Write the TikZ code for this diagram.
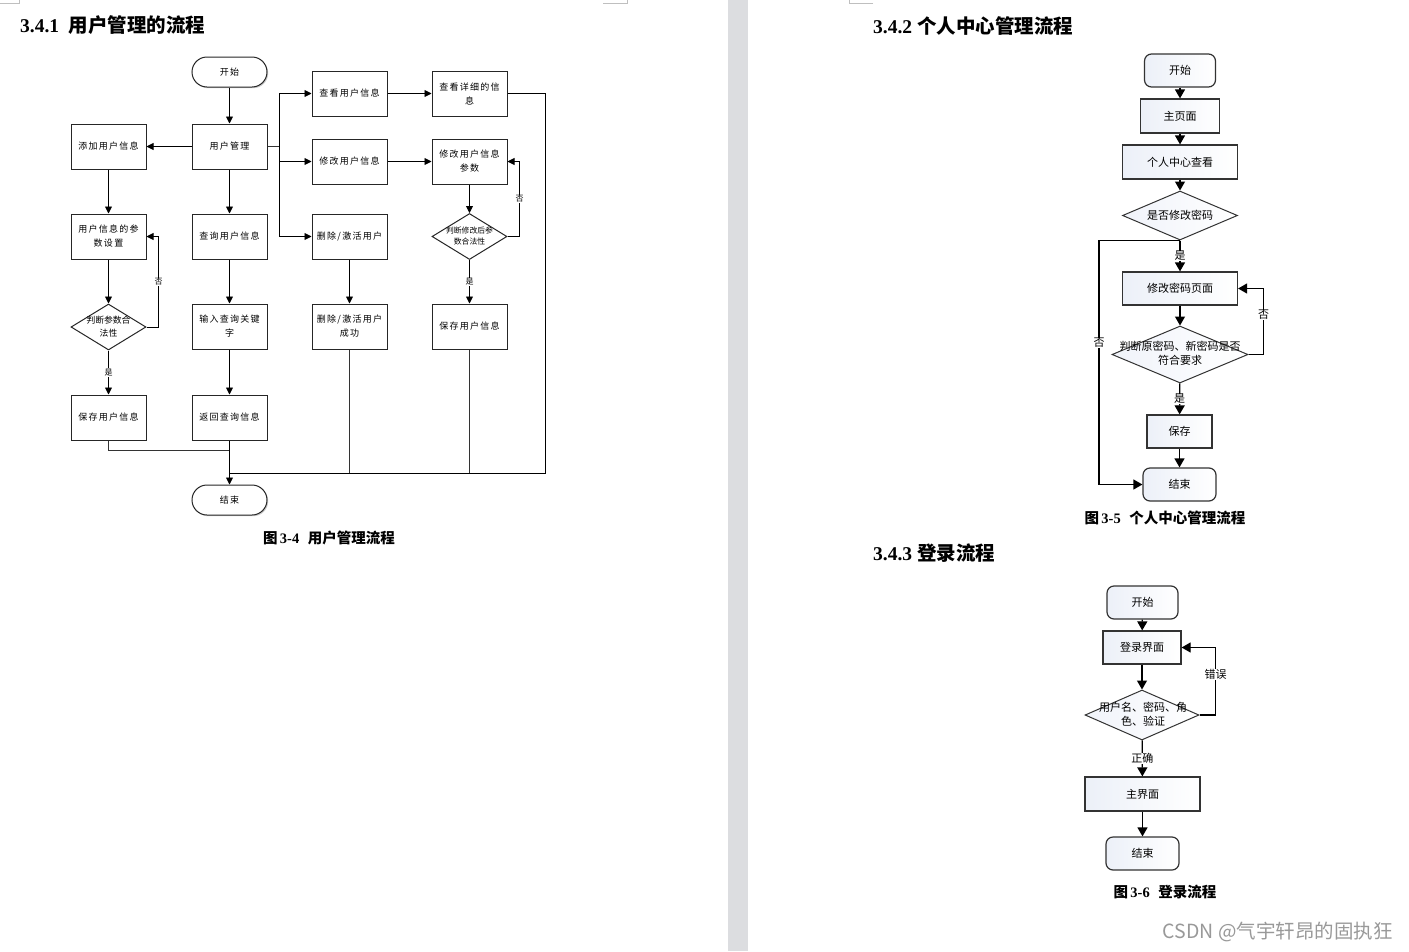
\documentclass[tikz,border=0pt]{standalone}
\usepackage{fontspec}
\newfontfamily\cjk{Noto Sans CJK SC}
\newfontfamily\cjkl[LetterSpace=14]{Noto Sans CJK SC}
\newfontfamily\tnr{Liberation Serif}
\usetikzlibrary{arrows.meta,shapes.geometric,shadows,calc}
\definecolor{gapgray}{RGB}{220,221,224}
\definecolor{shadeA}{RGB}{236,240,248}
\definecolor{shadeB}{RGB}{240,243,250}
\begin{document}
\begin{tikzpicture}[x=1pt,y=-1pt,
  every node/.style={inner sep=1pt},
  lbox/.style={draw=black!85,line width=1pt,fill=white,minimum width=75pt,minimum height=45pt,
    font=\cjkl\fontsize{9}{14}\selectfont,align=center,
    drop shadow={shadow xshift=1.2pt,shadow yshift=-1.2pt,fill=black!20,opacity=1}},
  lterm/.style={lbox,rounded corners=15pt,minimum height=30pt},
  ldia/.style={diamond,draw=black!85,line width=1pt,fill=white,minimum width=75pt,minimum height=46pt,inner sep=0pt},
  ltxt/.style={font=\cjk\fontsize{8.8}{13}\selectfont,align=center},
  larr/.style={draw=black,line width=0.9pt,-{Triangle[length=7pt,width=7pt]}},
  lline/.style={draw=black!80,line width=1pt},
  llab/.style={fill=white,font=\cjk\fontsize{8}{9}\selectfont,inner sep=0.5pt},
  rbox/.style={draw=black!80,line width=1.2pt,left color=shadeA,right color=white,
    font=\cjk\fontsize{11}{15}\selectfont,align=center},
  rterm/.style={rbox,rounded corners=7pt},
  rdia/.style={diamond,draw=black!80,line width=1pt,left color=shadeB,right color=white,inner sep=0pt},
  rtxt/.style={font=\cjk\fontsize{11}{14}\selectfont,align=center},
  rarr/.style={draw=black,line width=1.2pt,-{Triangle[length=9pt,width=10pt]}},
  rlab/.style={fill=white,font=\cjk\fontsize{11}{13}\selectfont,inner sep=0.5pt},
  hd/.style={anchor=west,font=\fontsize{19.5}{22}\selectfont\bfseries},
  figcap/.style={font=\fontsize{14.5}{17}\selectfont\bfseries}
]
\useasboundingbox (0,0) rectangle (1409,951);
\fill[white] (0,0) rectangle (1409,951);
% page gap
\fill[gapgray] (728,0) rectangle (748,951);
\draw[black!25,line width=0.8pt] (0,3) -- (19,3) -- (19,0);
\draw[black!25,line width=0.8pt] (603,3) -- (627,3) -- (627,0);
\draw[black!25,line width=0.8pt] (873,3) -- (849,3) -- (849,0);

% ---------- headers ----------
\node[hd] (h1) at (19,25) {{\tnr 3.4.1}\hspace{0.5em}{\cjk 用户管理的流程}};
\node[hd] (h2) at (872,26) {{\tnr 3.4.2}\hspace{0.25em}{\cjk 个人中心管理流程}};
\node[hd] (h3) at (872,553) {{\tnr 3.4.3}\hspace{0.25em}{\cjk 登录流程}};

% ---------- chart 1 ----------
\node[lterm] (st) at (229.5,72) {开始};
\node[lbox] (um) at (229.5,146.5) {用户管理};
\node[lbox] (add) at (108.5,146.5) {添加用户信息};
\node[lbox] (param) at (108.5,236.5) {用户信息的参\\数设置};
\node[ldia] (d1) at (108.5,327) {};
\node[ltxt] (d1t) at (108.5,327) {判断参数合\\法性};
\node[lbox] (save1) at (108.5,417.5) {保存用户信息};
\node[lbox] (query) at (229.5,236.5) {查询用户信息};
\node[lbox] (kw) at (229.5,326.5) {输入查询关键\\字};
\node[lbox] (ret) at (229.5,417.5) {返回查询信息};
\node[lterm] (end1) at (229.5,500) {结束};
\node[lbox] (view) at (349.5,93.5) {查看用户信息};
\node[lbox] (mod) at (349.5,161.5) {修改用户信息};
\node[lbox] (del) at (349.5,236.5) {删除/激活用户};
\node[lbox] (delok) at (349.5,326.5) {删除/激活用户\\成功};
\node[lbox] (detail) at (469.5,93.5) {查看详细的信\\息};
\node[lbox] (mparam) at (469.5,161.5) {修改用户信息\\参数};
\node[ldia] (d2) at (469.5,236.5) {};
\node[ltxt,font=\cjk\fontsize{7.8}{11}\selectfont] (d2t) at (469.5,236.5) {判断修改后参\\数合法性};
\node[lbox] (save2) at (469.5,326.5) {保存用户信息};

\draw[larr] (st) -- (um);
\draw[larr] (um) -- (add);
\draw[larr] (add) -- (param);
\draw[larr] (param) -- (d1);
\draw[larr] (d1) -- node[llab]{是} (save1);
\draw[larr] (d1.east) -- ++(12,0) |- node[pos=0.25,llab]{否} (param.east);
\draw[larr] (um) -- (query);
\draw[larr] (query) -- (kw);
\draw[larr] (kw) -- (ret);
\draw[lline] (um.east) -- ++(12,0) coordinate (br);
\draw[larr] (br) |- (view);
\draw[larr] (br) |- (mod);
\draw[larr] (br) |- (del);
\draw[larr] (view) -- (detail);
\draw[larr] (mod) -- (mparam);
\draw[larr] (del) -- (delok);
\draw[larr] (mparam) -- (d2);
\draw[larr] (d2) -- node[llab]{是} (save2);
\draw[larr] (d2.east) -- ++(12,0) |- node[pos=0.25,llab]{否} (mparam.east);
\coordinate (j) at (229.5,473);
\coordinate (j1) at (229.5,450);
\draw[lline,black] (detail.east) -- ++(38,0) |- (j);
\draw[lline] (delok.south) -- (delok.south |- j);
\draw[lline] (save2.south) -- (save2.south |- j);
\draw[lline] (save1.south) |- (j1);
\draw[larr] (ret) -- (end1);
\node[figcap] (c1) at (329,538) {{\cjk 图}\,{\tnr 3-4}\hspace{0.6em}{\cjk 用户管理流程}};

% ---------- chart 2 ----------
\node[rterm,minimum width=71pt,minimum height=33pt] (s2) at (1180,70.5) {开始};
\node[rbox,minimum width=79pt,minimum height=34pt] (home) at (1180,116) {主页面};
\node[rbox,minimum width=115pt,minimum height=34pt] (pc) at (1180,162) {个人中心查看};
\node[rdia,minimum width=115pt,minimum height=49pt] (dq) at (1180,215.5) {};
\node[rtxt] (dqt) at (1180,215.5) {是否修改密码};
\node[rbox,minimum width=115pt,minimum height=33pt] (pwd) at (1180,288.5) {修改密码页面};
\node[rdia,minimum width=136pt,minimum height=57pt] (dj) at (1180,354.5) {};
\node[rtxt] (djt) at (1180,353) {判断原密码、新密码是否\\符合要求};
\node[rbox,minimum width=65pt,minimum height=33pt] (sv) at (1179.5,431.5) {保存};
\node[rterm,minimum width=73pt,minimum height=33pt] (e2) at (1179.5,484.5) {结束};

\draw[rarr] (s2) -- (home);
\draw[rarr] (home) -- (pc);
\draw[rarr] (pc) -- (dq);
\draw[rarr] (dq) -- node[rlab]{是} (pwd);
\draw[rarr] (pwd) -- (dj);
\draw[rarr] (dj) -- node[rlab]{是} (sv);
\draw[rarr] (sv) -- (e2);
\draw[rarr] (dj.east) -- ++(15,0) |- node[pos=0.3,rlab]{否} (pwd.east);
\draw[rarr] (dq.south) -- ++(-81,0) |- node[pos=0.21,rlab]{否} (e2.west);
\node[figcap] (c2) at (1165,518) {{\cjk 图}\,{\tnr 3-5}\hspace{0.6em}{\cjk 个人中心管理流程}};

% ---------- chart 3 ----------
\node[rterm,minimum width=71pt,minimum height=33pt] (s3) at (1142.5,602.5) {开始};
\node[rbox,minimum width=78pt,minimum height=33pt] (login) at (1142,647.5) {登录界面};
\node[rdia,minimum width=114pt,minimum height=50pt] (dl) at (1142,715) {};
\node[rtxt] (dlt) at (1143,714) {用户名、密码、角\\色、验证};
\node[rbox,minimum width=115pt,minimum height=34pt] (mainp) at (1142.5,794) {主界面};
\node[rterm,minimum width=73pt,minimum height=33pt] (e3) at (1142.5,853.5) {结束};

\draw[rarr] (s3) -- (login);
\draw[rarr] (login) -- (dl);
\draw[rarr] (dl) -- node[rlab]{正确} (mainp);
\draw[rarr] (mainp) -- (e3);
\draw[rarr] (dl.east) -- ++(16,0) |- node[pos=0.3,rlab]{错误} (login.east);
\node[figcap] (c3) at (1165,892) {{\cjk 图}\,{\tnr 3-6}\hspace{0.6em}{\cjk 登录流程}};

% watermark
\node[anchor=east,text=black!40,font=\cjk\fontsize{19.5}{21}\selectfont] (wm) at (1394,932) {CSDN @气宇轩昂的固执狂};
\end{tikzpicture}
\end{document}
